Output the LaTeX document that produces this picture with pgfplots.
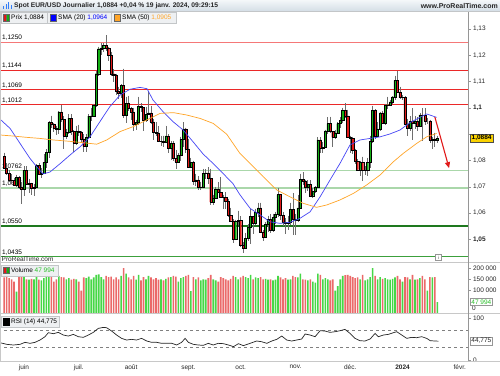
\documentclass[border=0pt]{standalone}
\usepackage{pgfplots}
\pgfplotsset{compat=1.18}
\usepackage{pgfplotstable}
\usetikzlibrary{arrows.meta}
\usepackage{fontspec}
\setmainfont{Liberation Sans}
\definecolor{cgreen}{RGB}{20,175,20}
\definecolor{cred}{RGB}{225,25,25}
\definecolor{vgreen}{RGB}{70,215,70}
\definecolor{vred}{RGB}{235,105,105}
\definecolor{smablue}{RGB}{70,70,245}
\definecolor{smaorange}{RGB}{255,165,40}
\definecolor{lvlred}{RGB}{235,40,40}
\definecolor{lvlred2}{RGB}{245,120,120}
\definecolor{lgreen}{RGB}{170,215,170}
\definecolor{dgreen}{RGB}{30,120,30}
\definecolor{mgreen}{RGB}{60,160,60}
\definecolor{axgray}{RGB}{150,150,150}
\definecolor{sepgray}{RGB}{200,200,200}
\definecolor{boxgray}{RGB}{238,240,242}
\definecolor{boxborder}{RGB}{195,198,200}
\definecolor{pricey}{RGB}{250,210,0}
\definecolor{wickgray}{RGB}{110,110,110}
\definecolor{numgreen}{RGB}{40,190,40}
\newcommand{\sm}{\fontsize{6.5pt}{7pt}\selectfont}

\pgfplotstableread{
i O H L C V
-8 1.0815 1.0830 1.0768 1.0772 158000
-7 1.0772 1.0790 1.0745 1.0752 160000
-6 1.0752 1.0765 1.0720 1.0726 155000
-5 1.0726 1.0747 1.0710 1.0724 150000
-4 1.0724 1.0735 1.0702 1.0705 140000
-3 1.0705 1.0745 1.0698 1.0737 95000
-2 1.0737 1.0742 1.0692 1.0700 162000
-1 1.0700 1.0720 1.0635 1.0689 170000
0 1.0689 1.0779 1.0665 1.0763 165000
1 1.0763 1.0779 1.0705 1.0708 150000
2 1.0708 1.0730 1.0675 1.0713 148000
3 1.0713 1.0716 1.0668 1.0693 152000
4 1.0693 1.0710 1.0666 1.0697 150000
5 1.0697 1.0786 1.0695 1.0781 165000
6 1.0781 1.0790 1.0745 1.0749 148000
7 1.0749 1.0772 1.0732 1.0753 145000
8 1.0753 1.0823 1.0752 1.0793 155000
9 1.0793 1.0843 1.0770 1.0831 160000
10 1.0831 1.0950 1.0810 1.0944 168000
11 1.0944 1.0971 1.0925 1.0939 160000
12 1.0939 1.0941 1.0910 1.0922 140000
13 1.0922 1.0933 1.0898 1.0918 150000
14 1.0918 1.0988 1.0900 1.0985 165000
15 1.0985 1.1012 1.0947 1.0957 160000
16 1.0957 1.0968 1.0845 1.0894 158000
17 1.0894 1.0920 1.0882 1.0906 150000
18 1.0906 1.0975 1.0900 1.0961 155000
19 1.0961 1.0976 1.0897 1.0912 148000
20 1.0912 1.0915 1.0834 1.0866 152000
21 1.0866 1.0933 1.0860 1.0910 150000
22 1.0910 1.0935 1.0895 1.0908 140000
23 1.0908 1.0912 1.0865 1.0882 100000
24 1.0882 1.0900 1.0834 1.0854 158000
25 1.0854 1.0900 1.0833 1.0889 155000
26 1.0889 1.0975 1.0880 1.0969 162000
27 1.0969 1.1000 1.0950 1.0970 150000
28 1.0970 1.1015 1.0965 1.1010 158000
29 1.1010 1.1140 1.1005 1.1130 170000
30 1.1130 1.1232 1.1120 1.1225 172000
31 1.1225 1.1245 1.1200 1.1228 160000
32 1.1228 1.1246 1.1212 1.1237 150000
33 1.1237 1.1276 1.1218 1.1228 165000
34 1.1228 1.1232 1.1180 1.1200 160000
35 1.1200 1.1213 1.1120 1.1130 162000
36 1.1130 1.1146 1.1100 1.1124 150000
37 1.1124 1.1130 1.1050 1.1063 158000
38 1.1063 1.1080 1.1035 1.1055 150000
39 1.1055 1.1090 1.1038 1.1085 165000
40 1.1085 1.1149 1.0960 1.0973 200000
41 1.0973 1.1043 1.0944 1.1017 175000
42 1.1017 1.1046 1.0990 1.0998 158000
43 1.0998 1.1003 1.0954 1.0985 150000
44 1.0985 1.1000 1.0912 1.0937 165000
45 1.0937 1.0955 1.0915 1.0945 148000
46 1.0945 1.1042 1.0936 1.1006 170000
47 1.1006 1.1017 1.0985 1.1002 145000
48 1.1002 1.1003 1.0914 1.0955 160000
49 1.0955 1.1004 1.0945 1.0975 150000
50 1.0975 1.1065 1.0975 1.0981 165000
51 1.0981 1.1008 1.0937 1.0947 158000
52 1.0947 1.0957 1.0878 1.0906 150000
53 1.0906 1.0946 1.0895 1.0905 155000
54 1.0905 1.0930 1.0870 1.0872 148000
55 1.0872 1.0895 1.0855 1.0874 150000
56 1.0874 1.0895 1.0853 1.0871 145000
57 1.0871 1.0932 1.0866 1.0894 152000
58 1.0894 1.0900 1.0830 1.0846 158000
59 1.0846 1.0875 1.0803 1.0864 160000
60 1.0864 1.0875 1.0800 1.0809 165000
61 1.0809 1.0840 1.0766 1.0795 162000
62 1.0795 1.0829 1.0790 1.0819 140000
63 1.0819 1.0890 1.0800 1.0880 155000
64 1.0880 1.0945 1.0850 1.0920 160000
65 1.0920 1.0925 1.0830 1.0844 165000
66 1.0844 1.0882 1.0770 1.0775 170000
67 1.0775 1.0810 1.0770 1.0794 97000
68 1.0794 1.0800 1.0705 1.0722 160000
69 1.0722 1.0750 1.0702 1.0726 150000
70 1.0726 1.0740 1.0686 1.0698 158000
71 1.0698 1.0720 1.0687 1.0700 145000
72 1.0700 1.0768 1.0700 1.0751 150000
73 1.0751 1.0767 1.0730 1.0753 148000
74 1.0753 1.0774 1.0712 1.0733 155000
75 1.0733 1.0768 1.0632 1.0642 170000
76 1.0642 1.0670 1.0631 1.0658 150000
77 1.0658 1.0700 1.0655 1.0690 145000
78 1.0690 1.0718 1.0675 1.0679 140000
79 1.0679 1.0736 1.0660 1.0661 160000
80 1.0661 1.0670 1.0617 1.0660 155000
81 1.0660 1.0680 1.0617 1.0645 150000
82 1.0645 1.0655 1.0587 1.0592 145000
83 1.0592 1.0620 1.0570 1.0571 152000
84 1.0571 1.0577 1.0488 1.0502 165000
85 1.0502 1.0575 1.0496 1.0569 160000
86 1.0569 1.0609 1.0555 1.0573 150000
87 1.0573 1.0588 1.0470 1.0477 158000
88 1.0477 1.0490 1.0448 1.0467 165000
89 1.0467 1.0525 1.0466 1.0503 160000
90 1.0503 1.0559 1.0495 1.0548 155000
91 1.0548 1.0617 1.0483 1.0588 170000
92 1.0588 1.0590 1.0520 1.0563 150000
93 1.0563 1.0616 1.0555 1.0604 158000
94 1.0604 1.0640 1.0585 1.0620 155000
95 1.0620 1.0640 1.0525 1.0529 160000
96 1.0529 1.0535 1.0495 1.0510 150000
97 1.0510 1.0565 1.0505 1.0558 152000
98 1.0558 1.0590 1.0530 1.0575 148000
99 1.0575 1.0595 1.0523 1.0535 150000
100 1.0535 1.0598 1.0530 1.0584 145000
101 1.0584 1.0605 1.0560 1.0594 148000
102 1.0594 1.0695 1.0585 1.0670 165000
103 1.0670 1.0670 1.0575 1.0591 158000
104 1.0591 1.0605 1.0550 1.0565 150000
105 1.0565 1.0580 1.0522 1.0562 155000
106 1.0562 1.0590 1.0535 1.0566 148000
107 1.0566 1.0640 1.0555 1.0615 150000
108 1.0615 1.0675 1.0517 1.0576 165000
109 1.0576 1.0597 1.0516 1.0572 160000
110 1.0572 1.0669 1.0566 1.0620 158000
111 1.0620 1.0750 1.0617 1.0728 175000
112 1.0728 1.0755 1.0705 1.0720 150000
113 1.0720 1.0727 1.0676 1.0697 148000
114 1.0697 1.0725 1.0683 1.0708 145000
115 1.0708 1.0724 1.0660 1.0666 150000
116 1.0666 1.0694 1.0657 1.0684 140000
117 1.0684 1.0703 1.0675 1.0697 135000
118 1.0697 1.0888 1.0695 1.0878 175000
119 1.0878 1.0888 1.0827 1.0848 170000
120 1.0848 1.0870 1.0828 1.0851 150000
121 1.0851 1.0917 1.0850 1.0913 155000
122 1.0913 1.0965 1.0902 1.0940 150000
123 1.0940 1.0966 1.0904 1.0911 145000
124 1.0911 1.0911 1.0852 1.0888 150000
125 1.0888 1.0916 1.0880 1.0902 100000
126 1.0902 1.0946 1.0901 1.0940 120000
127 1.0940 1.0965 1.0922 1.0953 150000
128 1.0953 1.1000 1.0942 1.0990 165000
129 1.0990 1.1017 1.0960 1.0970 168000
130 1.0970 1.0993 1.0886 1.0888 170000
131 1.0888 1.0895 1.0828 1.0883 165000
132 1.0883 1.0890 1.0825 1.0838 160000
133 1.0838 1.0845 1.0785 1.0797 155000
134 1.0797 1.0804 1.0762 1.0765 158000
135 1.0765 1.0800 1.0740 1.0793 150000
136 1.0793 1.0815 1.0723 1.0762 170000
137 1.0762 1.0778 1.0744 1.0763 145000
138 1.0763 1.0810 1.0740 1.0792 150000
139 1.0792 1.0895 1.0770 1.0874 160000
140 1.0874 1.1009 1.0866 1.0990 200000
141 1.0990 1.0995 1.0881 1.0894 165000
142 1.0894 1.0946 1.0888 1.0920 150000
143 1.0920 1.0985 1.0914 1.0981 160000
144 1.0981 1.0989 1.0937 1.0942 152000
145 1.0942 1.1015 1.0934 1.1009 155000
146 1.1009 1.1042 1.0995 1.1012 150000
147 1.1012 1.1030 1.1010 1.1023 148000
148 1.1023 1.1045 1.1015 1.1042 152000
149 1.1042 1.1123 1.1030 1.1105 158000
150 1.1105 1.1140 1.1055 1.1061 165000
151 1.1061 1.1080 1.1033 1.1039 150000
152 1.1039 1.1048 1.1030 1.1041 140000
153 1.1041 1.1045 1.0939 1.0939 160000
154 1.0939 1.0956 1.0892 1.0922 158000
155 1.0922 1.0968 1.0914 1.0948 150000
156 1.0948 1.0998 1.0877 1.0941 170000
157 1.0941 1.0970 1.0921 1.0950 148000
158 1.0950 1.0965 1.0913 1.0930 150000
159 1.0930 1.0981 1.0930 1.0973 155000
160 1.0973 1.0999 1.0875 1.0971 165000
161 1.0971 1.0998 1.0936 1.0951 150000
162 1.0951 1.0962 1.0938 1.0951 100000
163 1.0951 1.0955 1.0865 1.0877 160000
164 1.0877 1.0890 1.0844 1.0882 158000
165 1.0882 1.0905 1.0850 1.0878 160000
166 1.0878 1.0895 1.0868 1.0884 47994
}\ohlc

\pgfplotsset{
  mainax/.style={at={(0pt,113pt)}, anchor=south west, scale only axis,
    width=468pt, height=251pt, xmin=-9.64, xmax=178.3,
    ymin=1.04141, ymax=1.13684},
}
\tikzset{lvl/.style={anchor=south west, inner sep=0.6pt, font=\sm, text=black}}

\begin{document}
\begin{tikzpicture}
\useasboundingbox (0,0) rectangle (500pt,375pt);
\fill[white] (0,0) rectangle (500pt,375pt);

% ---------- main panel: levels + wicks ----------
\begin{axis}[mainax, axis lines=none]
\addplot[lvlred2, line width=0.9pt] coordinates {(-20,1.1250) (200,1.1250)};
\addplot[lvlred, line width=0.9pt] coordinates {(-20,1.1144) (200,1.1144)};
\addplot[lvlred, line width=0.9pt] coordinates {(-20,1.1069) (200,1.1069)};
\addplot[lvlred, line width=0.9pt] coordinates {(-20,1.1012) (200,1.1012)};
\addplot[lgreen, line width=1.7pt] coordinates {(-20,1.0762) (200,1.0762)};
\addplot[lgreen, line width=1.7pt] coordinates {(-20,1.0695) (200,1.0695)};
\addplot[dgreen, line width=1.7pt] coordinates {(-20,1.0550) (200,1.0550)};
\addplot[mgreen, line width=0.9pt] coordinates {(-20,1.0435) (200,1.0435)};
\node[lvl] at (axis cs:-9.1,1.1252) {1,1250};
\node[lvl] at (axis cs:-9.1,1.1146) {1,1144};
\node[lvl] at (axis cs:-9.1,1.1071) {1,1069};
\node[lvl] at (axis cs:-9.1,1.1014) {1,1012};
\node[lvl] at (axis cs:-9.1,1.0765) {1,0762};
\node[lvl] at (axis cs:-9.1,1.0698) {1,0695};
\node[lvl] at (axis cs:-9.1,1.0553) {1,0550};
\node[lvl] at (axis cs:-9.1,1.0437) {1,0435};
\addplot[only marks, mark=*, mark size=0pt, mark options={draw=none, fill=none}, forget plot,
  error bars/.cd, y dir=minus, y explicit, error mark=none,
  error bar style={draw=wickgray, line width=0.8pt}]
  table[x=i, y=H, y error minus expr=\thisrow{H}-\thisrow{L}] {\ohlc};
\end{axis}

% ---------- candle bodies ----------
\begin{axis}[mainax, axis lines=none, ybar stacked, bar width=2.1pt]
\addplot[draw=none, fill=none] table[x=i, y expr={min(\thisrow{O},\thisrow{C})}] {\ohlc};
\addplot[draw=black, line width=0.4pt, fill=cgreen] table[x=i, y expr={max(\thisrow{C}-\thisrow{O},0)}] {\ohlc};
\addplot[draw=black, line width=0.4pt, fill=cred] table[x=i, y expr={max(\thisrow{O}-\thisrow{C},0)}] {\ohlc};
\end{axis}

% ---------- SMAs, arrow, price scale ----------
\begin{axis}[mainax, axis x line=none, axis y line*=right,
  y axis line style={draw=none}, tick align=outside, major tick length=2.5pt,
  ytick style={axgray, line width=0.5pt},
  ytick={1.05,1.06,1.07,1.08,1.09,1.10,1.11,1.12,1.13},
  yticklabels={{\textbf{1,05}},{1,06},{1,07},{1,08},{},{\textbf{1,1}},{1,11},{1,12},{1,13}},
  yticklabel style={font=\sm, text=black!85, anchor=west, xshift=-1pt}]
\addplot[smablue, line width=0.7pt] coordinates {
(-9.6,1.0957) (-5.6,1.0922) (-1.6,1.0865) (2.4,1.0808) (5.2,1.0775) (7.6,1.0749)
(10.4,1.0756) (14.5,1.0788) (18.5,1.0821) (22.5,1.0852) (26.5,1.0890) (30.5,1.0948)
(34.5,1.1005) (38.6,1.1049) (42.6,1.1071) (46.6,1.1078) (49.4,1.1073) (51.8,1.1030)
(55.8,1.0986) (59.8,1.0948) (63.9,1.0916) (67.9,1.0871) (71.9,1.0825) (75.9,1.0789)
(79.9,1.0751) (83.9,1.0712) (86.7,1.0670) (90.8,1.0618) (94.8,1.0593) (98.8,1.0567)
(102.8,1.0561) (106.8,1.0565) (110.8,1.0580) (114.9,1.0605) (118.9,1.0662) (122.9,1.0726)
(126.9,1.0789) (130.9,1.0859) (134.9,1.0878) (139,1.0884) (143,1.0890) (147,1.0901)
(151,1.0916) (155,1.0944) (159,1.0964) (161.7,1.0977) (165.7,1.0964)};
\addplot[smaorange, line width=0.7pt] coordinates {
(-9.6,1.0897) (-4.3,1.0893) (1.1,1.0888) (6.4,1.0884) (11.8,1.0878) (17.1,1.0874)
(22.5,1.0869) (29.2,1.0862) (33.2,1.0878) (38.6,1.0910) (43.9,1.0929) (49.3,1.0954)
(54.6,1.0979) (60,1.0982) (65.3,1.0973) (70.7,1.0960) (76,1.0941) (81.4,1.0900)
(86.7,1.0827) (90.8,1.0789) (96.1,1.0738) (101.5,1.0688) (106.8,1.0662) (112.2,1.0637)
(117.5,1.0622) (121.6,1.0631) (126.9,1.0650) (132.3,1.0675) (137.6,1.0707) (143,1.0745)
(148.3,1.0795) (152.3,1.0827) (157.7,1.0865) (161.7,1.0890) (165.7,1.0903)};
\addplot[cred, line width=1.1pt, -{Triangle[length=6pt,width=5pt]}] coordinates {(165,1.0965) (170.7,1.0771)};
\end{axis}

% ---------- volume ----------
\begin{axis}[at={(0pt,62pt)}, anchor=south west, scale only axis,
  width=468pt, height=51pt, xmin=-9.64, xmax=178.3, ymin=0, ymax=226667,
  axis x line=none, axis y line*=right, y axis line style={draw=none},
  ybar, bar width=1.6pt, tick align=outside, major tick length=2.5pt,
  ytick style={axgray, line width=0.5pt},
  ytick={100000,150000,200000},
  yticklabels={{100 000},{150 000},{200 000}},
  yticklabel style={font=\sm, text=black!85, anchor=west, xshift=-1pt},
  scaled y ticks=false]
\addplot[fill=vgreen, draw=none, bar shift=0pt] table[x=i, y expr={\thisrow{C}>=\thisrow{O} ? \thisrow{V} : 0}] {\ohlc};
\addplot[fill=vred, draw=none, bar shift=0pt] table[x=i, y expr={\thisrow{C}<\thisrow{O} ? \thisrow{V} : 0}] {\ohlc};
\end{axis}

% ---------- RSI ----------
\begin{axis}[at={(0pt,14pt)}, anchor=south west, scale only axis,
  width=468pt, height=47pt, xmin=-9.64, xmax=178.3, ymin=-2.9, ymax=110.2,
  axis x line=none, axis y line*=right, y axis line style={draw=none},
  tick align=outside, major tick length=2.5pt,
  ytick style={axgray, line width=0.5pt},
  ytick={0,100}, yticklabels={0,100},
  yticklabel style={font=\sm, text=black!85, anchor=west, xshift=-1pt}]
\addplot[gray, dashed, line width=0.5pt] coordinates {(-20,70) (200,70)};
\addplot[gray, dashed, line width=0.5pt] coordinates {(-20,30) (200,30)};
\addplot[black!85, line width=0.7pt] coordinates {
(-9.64,41.2) (-6.96,37.2) (-4.28,35.6) (-1.61,37.2) (0.40,42) (2.41,39.6) (4.42,42)
(6.43,47.6) (8.43,55.6) (9.77,65.2) (11.78,62.8) (13.79,66) (15.79,59.6) (17.80,57.2)
(19.81,61.2) (21.82,55.6) (23.83,54) (25.84,59.6) (27.84,66) (29.85,75.6) (31.86,78)
(33.2,77.2) (35.2,69.2) (37.2,59.6) (39.2,51.6) (41.2,47.6) (43.2,49.2) (45.2,47.6)
(47.2,51.6) (49.3,45.2) (51.3,42) (53.3,42) (55.3,39.6) (57.3,39.6) (59.3,39.6)
(61.3,35.6) (63.3,42) (64.7,51.6) (66.0,42) (68.0,37.2) (70.0,35.6) (72.0,34.8)
(74.0,39.6) (76.0,35.6) (78.0,39.6) (80.1,38.8) (82.1,35.6) (84.1,31.6) (86.1,38.8)
(88.1,34) (90.8,39.6) (93.4,45.2) (95.4,43.6) (97.5,39.6) (99.5,45.2) (101.5,49.2)
(103.5,57.2) (105.5,47.6) (107.5,45.2) (109.5,47.6) (111.5,50) (112.9,62) (114.9,59.6)
(116.9,55.6) (118.9,70) (120.9,69.2) (122.9,66) (124.9,67.6) (126.9,70) (128.9,73.2)
(130.9,63.6) (132.9,51.6) (134.9,46) (136.9,45.2) (139.0,50) (141.0,63.6) (142.3,55.6)
(144.3,59.6) (146.3,61.2) (148.3,65.2) (149.7,67.6) (151.7,59.6) (153.7,51.6) (155.7,54)
(157.7,53.2) (159.7,55.6) (161.7,51.6) (163.1,46) (165.1,45.2) (166.4,44.8)};
\end{axis}

% ---------- date axis ----------
\begin{axis}[at={(0pt,14pt)}, anchor=south west, scale only axis,
  width=468pt, height=47pt, xmin=-9.64, xmax=178.3, ymin=0, ymax=1,
  axis y line=none, axis x line*=bottom, x axis line style={draw=none},
  tick align=outside, major tick length=0pt,
  xtick={0,22,43,66,87,109,131,152,175},
  xticklabels={juin,juil.,août,sept.,oct.,nov.,déc.,\textbf{2024},févr.},
  xticklabel style={font=\sm, text=black!85, anchor=north, yshift=-0.5pt}]
\addplot[draw=none] coordinates {(0,0) (1,1)};
\end{axis}

% ---------- frame, separators ----------
\draw[sepgray, line width=0.6pt] (0,113pt) -- (500pt,113pt);
\draw[sepgray, line width=0.6pt] (0,61.5pt) -- (500pt,61.5pt);
\draw[sepgray, line width=0.6pt] (0,14pt) -- (500pt,14pt);
\draw[axgray, line width=0.5pt] (468pt,14pt) -- (468pt,364pt);
\draw[sepgray, line width=0.6pt] (0.3pt,14pt) -- (0.3pt,364pt);

% ---------- title bar ----------
\shade[top color={rgb,255:red,244;green,247;blue,249}, bottom color={rgb,255:red,212;green,222;blue,230}]
  (0,364pt) rectangle (500pt,375pt);
\draw[boxborder, line width=0.5pt] (0,364pt) -- (500pt,364pt);
\fill[smablue!70!cyan] (3pt,366pt) rectangle (4.3pt,369pt);
\fill[smablue!70!cyan] (5.5pt,366pt) rectangle (6.8pt,371pt);
\fill[smablue!70!cyan] (8pt,366pt) rectangle (9.3pt,373pt);
\fill[smablue!70!cyan] (10.5pt,366pt) rectangle (11.8pt,370pt);
\node[anchor=west, inner sep=0, font=\fontsize{6.7pt}{7pt}\selectfont\bfseries, text=black!85] at (14pt,369.3pt)
  {Spot EUR/USD Journalier 1,0884 +0,04 \% 19 janv. 2024, 09:29:15};
\node[anchor=east, inner sep=0, font=\fontsize{7pt}{7pt}\selectfont\bfseries, text=black!85] at (498pt,369.3pt)
  {www.ProRealTime.com};

% ---------- legend boxes ----------
\filldraw[fill=boxgray, draw=boxborder, line width=0.4pt] (1pt,352pt) rectangle (47pt,362.5pt);
\filldraw[fill=cred, draw=black!60, line width=0.3pt] (3pt,354pt) rectangle (6pt,360.5pt);
\filldraw[fill=cgreen, draw=black!60, line width=0.3pt] (6pt,354pt) rectangle (9pt,360.5pt);
\node[anchor=west, inner sep=0, font=\sm] at (11pt,357.2pt) {Prix 1,0884};
\filldraw[fill=boxgray, draw=boxborder, line width=0.4pt] (47.5pt,352pt) rectangle (111pt,362.5pt);
\filldraw[fill=blue, draw=black!60, line width=0.3pt] (50pt,354pt) rectangle (56pt,360.5pt);
\node[anchor=west, inner sep=0, font=\sm] at (58pt,357.2pt) {SMA (20) \textcolor{blue}{1,0964}};
\filldraw[fill=boxgray, draw=boxborder, line width=0.4pt] (111.5pt,352pt) rectangle (176pt,362.5pt);
\filldraw[fill=smaorange, draw=black!60, line width=0.3pt] (114pt,354pt) rectangle (120pt,360.5pt);
\node[anchor=west, inner sep=0, font=\sm] at (122pt,357.2pt) {SMA (50) \textcolor{smaorange}{1,0905}};

\node[anchor=west, inner sep=0, font=\sm, text=black!85] at (1.5pt,116pt) {ProRealTime.com};
\draw[axgray, fill=white, line width=0.4pt] (435.5pt,114.5pt) rectangle (441pt,120.5pt);
\node[inner sep=0, font=\fontsize{4.5pt}{5pt}\selectfont, text=black!70] at (438.25pt,117.5pt) {i};

\filldraw[fill=boxgray, draw=boxborder, line width=0.4pt] (1pt,99pt) rectangle (58pt,110pt);
\filldraw[fill=cred, draw=black!60, line width=0.3pt] (3pt,101.5pt) rectangle (6pt,108pt);
\filldraw[fill=cgreen, draw=black!60, line width=0.3pt] (6pt,101.5pt) rectangle (9pt,108pt);
\node[anchor=west, inner sep=0, font=\sm] at (11pt,104.7pt) {Volume \textcolor{numgreen}{47 994}};

\filldraw[fill=boxgray, draw=boxborder, line width=0.4pt] (1pt,47.5pt) rectangle (59pt,58.5pt);
\filldraw[fill=black, draw=black, line width=0.3pt] (3pt,50pt) rectangle (9pt,56.5pt);
\node[anchor=west, inner sep=0, font=\sm] at (11pt,53.2pt) {RSI (14) 44,775};

% ---------- right value boxes ----------
\node[anchor=west, inner sep=0, font=\sm, text=black!85] at (472pt,66.5pt) {0};
\node[draw=axgray, fill=white, line width=0.4pt, inner sep=1.2pt, anchor=west, font=\sm, text=numgreen] at (470pt,73pt) {47 994};
\node[draw=axgray, fill=white, line width=0.4pt, inner sep=1.2pt, anchor=west, font=\sm, text=black!85] at (470pt,34pt) {44,775};
\node[draw=black!70, fill=pricey, line width=0.4pt, inner sep=1.5pt, anchor=west, font=\sm\bfseries] at (470pt,237pt) {1,0884};
\end{tikzpicture}
\end{document}
